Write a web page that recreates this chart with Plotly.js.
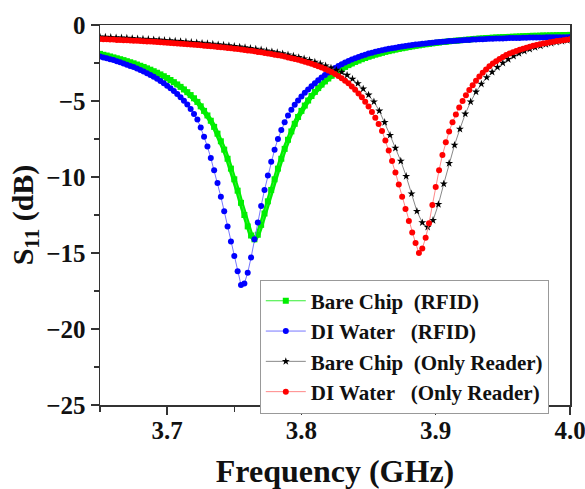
<!DOCTYPE html>
<html>
<head>
<meta charset="utf-8">
<script src="https://cdn.plot.ly/plotly-3.0.1.min.js"></script>
<style>html,body{margin:0;padding:0;background:#fff;}#chart{width:585px;height:489px;}</style>
</head>
<body>
<div id="chart"></div>
<script>
// Frequency grid (GHz) for the dense series
const freqA = [
3.6500,3.6525,3.6550,3.6575,3.6600,3.6625,3.6650,3.6675,3.6700,3.6725,
3.6750,3.6775,3.6800,3.6825,3.6850,3.6875,3.6900,3.6925,3.6950,3.6975,
3.7000,3.7025,3.7050,3.7075,3.7100,3.7125,3.7150,3.7175,3.7200,3.7225,
3.7250,3.7275,3.7300,3.7325,3.7350,3.7375,3.7400,3.7425,3.7450,3.7475,
3.7500,3.7525,3.7550,3.7575,3.7600,3.7625,3.7650,3.7675,3.7700,3.7725,
3.7750,3.7775,3.7800,3.7825,3.7850,3.7875,3.7900,3.7925,3.7950,3.7975,
3.8000,3.8025,3.8050,3.8075,3.8100,3.8125,3.8150,3.8175,3.8200,3.8225,
3.8250,3.8275,3.8300,3.8325,3.8350,3.8375,3.8400,3.8425,3.8450,3.8475,
3.8500,3.8525,3.8550,3.8575,3.8600,3.8625,3.8650,3.8675,3.8700,3.8725,
3.8750,3.8775,3.8800,3.8825,3.8850,3.8875,3.8900,3.8925,3.8950,3.8975,
3.9000,3.9025,3.9050,3.9075,3.9100,3.9125,3.9150,3.9175,3.9200,3.9225,
3.9250,3.9275,3.9300,3.9325,3.9350,3.9375,3.9400,3.9425,3.9450,3.9475,
3.9500,3.9525,3.9550,3.9575,3.9600,3.9625,3.9650,3.9675,3.9700,3.9725,
3.9750,3.9775,3.9800,3.9825,3.9850,3.9875,3.9900,3.9925,3.9950,3.9975,
4.0000];

// Frequency grid (GHz) for the star series
const freqB = [
3.650,3.654,3.658,3.662,3.666,3.670,3.674,3.678,3.682,3.686,
3.690,3.694,3.698,3.702,3.706,3.710,3.714,3.718,3.722,3.726,
3.730,3.734,3.738,3.742,3.746,3.750,3.754,3.758,3.762,3.766,
3.770,3.774,3.778,3.782,3.786,3.790,3.794,3.798,3.802,3.806,
3.810,3.814,3.818,3.822,3.826,3.830,3.834,3.838,3.842,3.846,
3.850,3.854,3.858,3.862,3.866,3.870,3.874,3.878,3.882,3.886,
3.890,3.894,3.898,3.902,3.906,3.910,3.914,3.918,3.922,3.926,
3.930,3.934,3.938,3.942,3.946,3.950,3.954,3.958,3.962,3.966,
3.970,3.974,3.978,3.982,3.986,3.990,3.994,3.998];

// S11 (dB): Bare Chip (RFID)
const bareChipRFID = [
-1.90,-1.96,-2.01,-2.07,-2.13,-2.19,-2.25,-2.31,-2.38,-2.45,
-2.52,-2.60,-2.68,-2.76,-2.85,-2.94,-3.04,-3.14,-3.25,-3.37,
-3.49,-3.62,-3.76,-3.91,-4.07,-4.24,-4.42,-4.61,-4.82,-5.06,
-5.35,-5.65,-5.95,-6.30,-6.70,-7.15,-7.65,-8.20,-8.80,-9.45,
-10.15,-10.90,-11.70,-12.50,-13.25,-13.85,-14.10,-13.80,-13.15,-12.40,
-11.60,-10.85,-10.15,-9.45,-8.80,-8.15,-7.55,-7.00,-6.50,-6.05,
-5.65,-5.30,-4.97,-4.67,-4.40,-4.15,-3.92,-3.71,-3.52,-3.34,
-3.18,-3.03,-2.89,-2.76,-2.64,-2.53,-2.43,-2.34,-2.25,-2.17,
-2.09,-2.02,-1.95,-1.89,-1.83,-1.77,-1.72,-1.67,-1.62,-1.57,
-1.53,-1.49,-1.45,-1.41,-1.37,-1.34,-1.30,-1.27,-1.24,-1.21,
-1.18,-1.15,-1.12,-1.10,-1.07,-1.05,-1.03,-1.01,-0.99,-0.97,
-0.95,-0.93,-0.91,-0.89,-0.88,-0.86,-0.85,-0.83,-0.82,-0.81,
-0.80,-0.79,-0.78,-0.77,-0.76,-0.75,-0.74,-0.73,-0.72,-0.71,
-0.71,-0.70,-0.69,-0.69,-0.68,-0.68,-0.67,-0.67,-0.66,-0.66,
-0.65];

// S11 (dB): DI Water (RFID)
const diWaterRFID = [
-2.08,-2.13,-2.19,-2.25,-2.31,-2.38,-2.45,-2.53,-2.61,-2.69,
-2.77,-2.86,-2.96,-3.06,-3.17,-3.29,-3.41,-3.54,-3.68,-3.83,
-3.99,-4.16,-4.34,-4.54,-4.75,-4.98,-5.23,-5.52,-5.85,-6.22,
-6.75,-7.35,-8.00,-8.75,-9.55,-10.40,-11.30,-12.25,-13.25,-14.25,
-15.20,-16.20,-17.10,-17.00,-16.30,-15.30,-14.10,-13.00,-11.90,-10.85,
-9.90,-9.00,-8.20,-7.50,-6.90,-6.40,-5.95,-5.57,-5.24,-4.96,
-4.70,-4.46,-4.24,-4.03,-3.83,-3.64,-3.46,-3.29,-3.12,-2.97,
-2.83,-2.70,-2.58,-2.47,-2.37,-2.27,-2.18,-2.10,-2.02,-1.95,
-1.88,-1.82,-1.76,-1.71,-1.66,-1.61,-1.57,-1.53,-1.49,-1.45,
-1.42,-1.38,-1.35,-1.32,-1.29,-1.26,-1.23,-1.21,-1.18,-1.16,
-1.14,-1.12,-1.10,-1.08,-1.06,-1.05,-1.03,-1.02,-1.00,-0.99,
-0.98,-0.96,-0.95,-0.94,-0.93,-0.92,-0.91,-0.90,-0.89,-0.88,
-0.88,-0.87,-0.86,-0.86,-0.85,-0.85,-0.84,-0.84,-0.83,-0.83,
-0.82,-0.82,-0.82,-0.81,-0.81,-0.81,-0.80,-0.80,-0.80,-0.80,
-0.79];

// S11 (dB): Bare Chip (Only Reader)
const bareChipReader = [
-0.78,-0.79,-0.81,-0.83,-0.84,-0.86,-0.88,-0.90,-0.92,-0.94,
-0.96,-0.98,-1.00,-1.03,-1.05,-1.08,-1.10,-1.13,-1.16,-1.19,
-1.22,-1.25,-1.29,-1.32,-1.36,-1.40,-1.44,-1.48,-1.53,-1.58,
-1.63,-1.69,-1.75,-1.81,-1.88,-1.96,-2.04,-2.13,-2.22,-2.32,
-2.43,-2.55,-2.68,-2.82,-2.97,-3.10,-3.30,-3.55,-3.85,-4.20,
-4.60,-5.05,-5.65,-6.40,-7.25,-8.10,-8.95,-9.95,-11.10,-12.25,
-13.00,-13.30,-12.85,-11.80,-10.45,-9.10,-7.90,-6.85,-5.85,-5.05,
-4.40,-3.88,-3.45,-3.10,-2.78,-2.50,-2.26,-2.05,-1.87,-1.72,
-1.59,-1.47,-1.37,-1.28,-1.20,-1.13,-1.07,-1.01];

// S11 (dB): DI Water (Only Reader)
const diWaterReader = [
-0.92,-0.93,-0.94,-0.95,-0.96,-0.98,-0.99,-1.00,-1.01,-1.02,
-1.03,-1.04,-1.05,-1.07,-1.08,-1.09,-1.11,-1.12,-1.14,-1.15,
-1.17,-1.18,-1.20,-1.21,-1.23,-1.25,-1.26,-1.28,-1.30,-1.32,
-1.34,-1.36,-1.38,-1.40,-1.42,-1.44,-1.46,-1.48,-1.51,-1.53,
-1.56,-1.58,-1.61,-1.64,-1.67,-1.70,-1.73,-1.77,-1.80,-1.84,
-1.88,-1.91,-1.95,-1.99,-2.03,-2.08,-2.13,-2.18,-2.23,-2.29,
-2.35,-2.41,-2.48,-2.55,-2.63,-2.71,-2.80,-2.89,-2.99,-3.10,
-3.22,-3.35,-3.50,-3.66,-3.84,-4.04,-4.26,-4.50,-4.76,-5.05,
-5.37,-5.72,-6.10,-6.52,-6.98,-7.60,-8.25,-8.95,-9.70,-10.50,
-11.30,-12.10,-12.90,-13.65,-14.35,-15.00,-14.70,-14.00,-13.05,-11.85,
-10.65,-9.55,-8.55,-7.72,-7.00,-6.40,-5.88,-5.42,-5.00,-4.62,
-4.28,-3.96,-3.66,-3.39,-3.14,-2.92,-2.72,-2.54,-2.38,-2.23,
-2.10,-1.98,-1.88,-1.79,-1.71,-1.63,-1.56,-1.49,-1.43,-1.37,
-1.32,-1.27,-1.22,-1.18,-1.14,-1.10,-1.06,-1.03,-1.00,-0.97,
-0.94];

const seriesNames = [
  'Bare Chip\u00a0\u00a0(RFID)',
  'DI Water\u00a0\u00a0\u00a0(RFID)',
  'Bare Chip\u00a0\u00a0(Only Reader)',
  'DI Water\u00a0\u00a0\u00a0(Only Reader)'
];

const FONT = 'Liberation Serif, Times New Roman, serif';

const traces = [
  // dense green band (no legend entry)
  {x: freqA, y: bareChipRFID, mode: 'lines', showlegend: false, hoverinfo: 'skip',
   line: {color: '#00ee00', width: 5}},
  {x: freqA, y: bareChipRFID, name: seriesNames[0], mode: 'lines+markers',
   line: {color: '#33ee33', width: 1},
   marker: {symbol: 'square', size: 6, color: '#00ee00'}},
  {x: freqA, y: diWaterRFID, name: seriesNames[1], mode: 'lines+markers',
   line: {color: '#7777ff', width: 1},
   marker: {symbol: 'circle', size: 6, color: '#0000ff'}},
  {x: freqB, y: bareChipReader, name: seriesNames[2], mode: 'lines+markers',
   line: {color: '#888888', width: 1},
   marker: {symbol: 'star', size: 6, color: '#000000'}},
  {x: freqA, y: diWaterReader, name: seriesNames[3], mode: 'lines+markers',
   line: {color: '#ff8888', width: 1},
   marker: {symbol: 'circle', size: 6, color: '#ff0000'}}
];

const axisCommon = {
  showgrid: false, zeroline: false,
  showline: true, linecolor: '#333', linewidth: 1.5, mirror: true,
  ticks: 'outside', ticklen: 8, tickwidth: 1.5, tickcolor: '#333',
  ticklabeloverflow: 'allow',
  tickfont: {family: FONT, size: 25, color: '#111', weight: 'bold'}
};

const layout = {
  width: 585, height: 489,
  margin: {l: 100, r: 15, t: 25, b: 84},
  paper_bgcolor: '#fff', plot_bgcolor: '#fff',
  font: {family: FONT, color: '#111'},
  xaxis: Object.assign({}, axisCommon, {
    range: [3.65, 4.0], tickmode: 'linear', tick0: 3.7, dtick: 0.1, tickformat: '.1f',
    ticklabelstandoff: -6,
    minor: {ticks: 'outside', ticklen: 5, tickwidth: 1.5, tickcolor: '#333', tick0: 3.65, dtick: 0.05},
    title: {text: 'Frequency (GHz)', font: {family: FONT, size: 32, color: '#111', weight: 'bold'}, standoff: 19}
  }),
  yaxis: Object.assign({}, axisCommon, {
    range: [-25, 0], tickmode: 'linear', tick0: 0, dtick: 5,
    minor: {ticks: 'outside', ticklen: 5, tickwidth: 1.5, tickcolor: '#333', tick0: 0, dtick: 2.5},
    title: {text: 'S<sub>11</sub> (dB)', font: {family: FONT, size: 30, color: '#111', weight: 'bold'}, standoff: 4}
  }),
  showlegend: true,
  legend: {
    x: 0.34, y: 0.33, xanchor: 'left', yanchor: 'top',
    bgcolor: '#fff', bordercolor: '#999', borderwidth: 1,
    font: {family: FONT, size: 21, color: '#111', weight: 'bold'},
    itemwidth: 40, tracegroupgap: 0, traceorder: 'normal'
  }
};

Plotly.newPlot('chart', traces, layout, {displayModeBar: false, staticPlot: true});
</script>
</body>
</html>
